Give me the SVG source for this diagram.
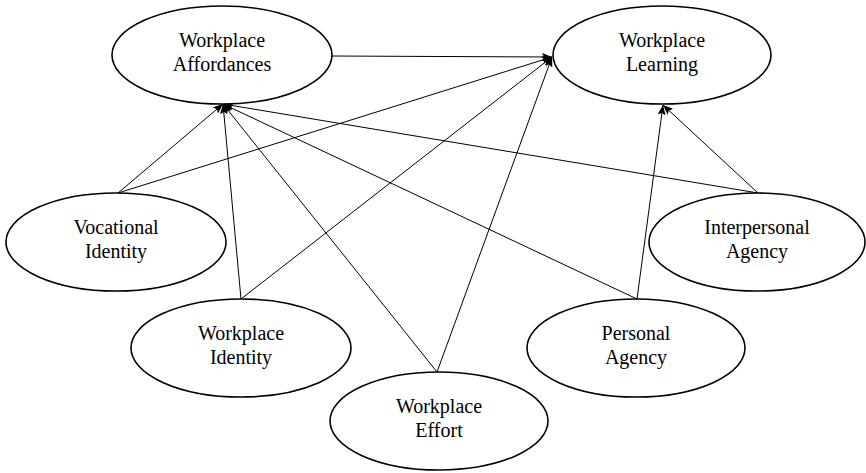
<svg xmlns="http://www.w3.org/2000/svg" width="866" height="473" viewBox="0 0 866 473">
  <style>
    .node ellipse { fill: #fff; stroke: #000; stroke-width: 1.6; }
    .node text { font-family: "Liberation Serif", "DejaVu Serif", serif; font-size: 20px; fill: #000; text-anchor: middle; }
    .edges line { stroke: #000; stroke-width: 1; marker-end: url(#arrow); }
  </style>
  <defs>
    <marker id="arrow" viewBox="0 0 10 8" refX="10" refY="4" markerWidth="10" markerHeight="8" markerUnits="userSpaceOnUse" orient="auto">
      <path d="M0,0 L10,4 L0,8 L2,4 Z" fill="#000"/>
    </marker>
  </defs>
  <rect width="866" height="473" fill="#fff"/>

  <g class="edges">
    <!-- Affordances to Learning -->
    <line x1="332" y1="56" x2="552" y2="57"/>
    <!-- Vocational Identity -->
    <line x1="118" y1="193" x2="223" y2="104"/>
    <line x1="118" y1="193" x2="552" y2="57"/>
    <!-- Workplace Identity -->
    <line x1="241" y1="299" x2="223" y2="104"/>
    <line x1="241" y1="299" x2="552" y2="57"/>
    <!-- Workplace Effort -->
    <line x1="437" y1="372" x2="223" y2="104"/>
    <line x1="437" y1="372" x2="552" y2="57"/>
    <!-- Personal Agency -->
    <line x1="637" y1="299" x2="223" y2="104"/>
    <line x1="637" y1="299" x2="663" y2="105"/>
    <!-- Interpersonal Agency -->
    <line x1="758" y1="193" x2="223" y2="104"/>
    <line x1="758" y1="193" x2="663" y2="105"/>
  </g>

  <g id="workplace-affordances" class="node">
    <ellipse cx="222" cy="55" rx="110" ry="49"/>
    <text x="222" y="47" font-family="Liberation Serif, serif">Workplace</text>
    <text x="222" y="71" font-family="Liberation Serif, serif">Affordances</text>
  </g>
  <g id="workplace-learning" class="node">
    <ellipse cx="662" cy="55" rx="109" ry="49"/>
    <text x="662" y="47">Workplace</text>
    <text x="662" y="71">Learning</text>
  </g>
  <g id="vocational-identity" class="node">
    <ellipse cx="116" cy="242" rx="110" ry="49"/>
    <text x="116" y="234">Vocational</text>
    <text x="116" y="258">Identity</text>
  </g>
  <g id="workplace-identity" class="node">
    <ellipse cx="241" cy="348" rx="110" ry="49"/>
    <text x="241" y="340">Workplace</text>
    <text x="241" y="364">Identity</text>
  </g>
  <g id="workplace-effort" class="node">
    <ellipse cx="439" cy="421" rx="109" ry="49"/>
    <text x="439" y="413">Workplace</text>
    <text x="439" y="437">Effort</text>
  </g>
  <g id="personal-agency" class="node">
    <ellipse cx="636" cy="348" rx="109" ry="49"/>
    <text x="636" y="340">Personal</text>
    <text x="636" y="364">Agency</text>
  </g>
  <g id="interpersonal-agency" class="node">
    <ellipse cx="757" cy="242" rx="108" ry="49"/>
    <text x="757" y="234">Interpersonal</text>
    <text x="757" y="258">Agency</text>
  </g>
</svg>
